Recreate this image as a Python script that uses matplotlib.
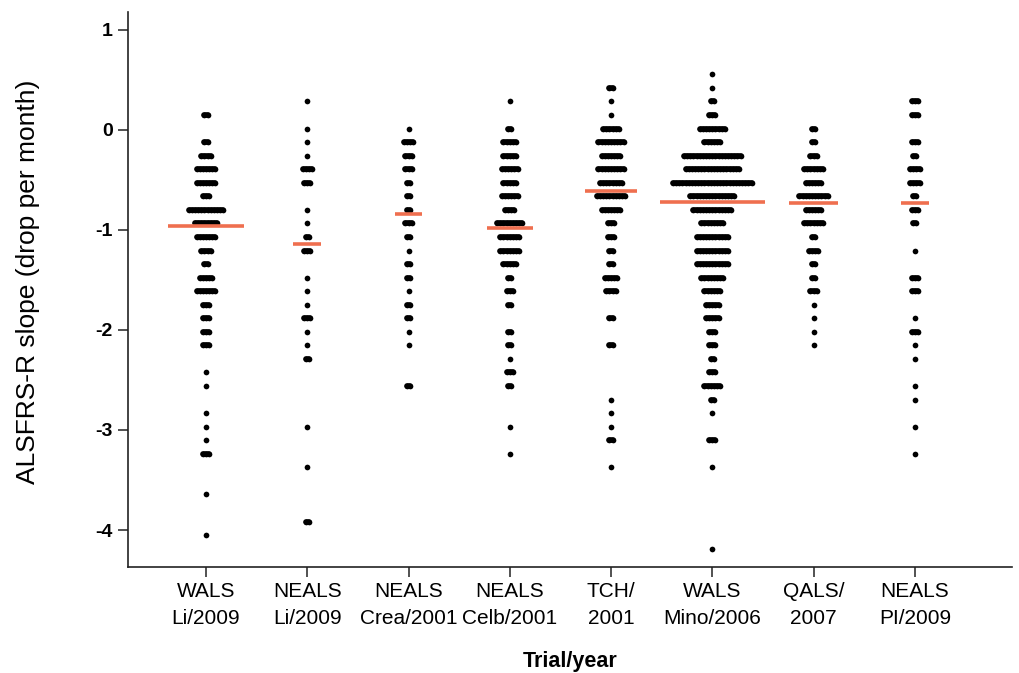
import numpy as np
import matplotlib.pyplot as plt

plt.rcParams["font.family"] = ["Liberation Sans", "DejaVu Sans"]

# ---------------------------------------------------------
# Data
# ---------------------------------------------------------
trials = ["WALS\nLi/2009", "NEALS\nLi/2009", "NEALS\nCrea/2001", "NEALS\nCelb/2001",
          "TCH/\n2001", "WALS\nMino/2006", "QALS/\n2007", "NEALS\nPI/2009"]

# slope bins (drop per month) at which the dots are stacked
slope_levels = [0.56, 0.42, 0.29, 0.15, 0.01, -0.12,
                -0.26, -0.39, -0.53, -0.66, -0.80, -0.93,
                -1.07, -1.21, -1.34, -1.48, -1.61, -1.75,
                -1.88, -2.02, -2.15, -2.29, -2.42, -2.56,
                -2.70, -2.83, -2.97, -3.10, -3.24, -3.37,
                -3.51, -3.64, -3.78, -3.92, -4.05, -4.19]

# patients per bin, same order as slope_levels
wals_li = [0, 0, 0, 2, 0, 2,   4, 7, 7, 3, 12, 8,   7, 4, 2, 5, 7, 3,
           3, 3, 3, 0, 1, 1,   0, 1, 1, 1, 3, 0,    0, 1, 0, 0, 1, 0]
neals_li = [0, 0, 1, 0, 1, 1,  1, 4, 3, 0, 1, 1,    2, 3, 0, 1, 1, 1,
            3, 1, 1, 2, 0, 0,  0, 0, 1, 0, 0, 1,    0, 0, 0, 2, 0, 0]
neals_crea = [0, 0, 0, 0, 1, 4, 3, 3, 2, 2, 2, 3,   2, 1, 2, 2, 1, 2,
              2, 1, 1, 0, 0, 2, 0, 0, 0, 0, 0, 0,   0, 0, 0, 0, 0, 0]
neals_celb = [0, 0, 1, 0, 2, 5, 5, 6, 5, 6, 4, 9,   7, 7, 5, 2, 3, 2,
              0, 2, 2, 1, 3, 2, 0, 0, 1, 0, 1, 0,   0, 0, 0, 0, 0, 0]
tch = [0, 2, 1, 1, 6, 9,       7, 9, 8, 10, 7, 3,   3, 2, 2, 5, 4, 0,
       2, 0, 2, 0, 0, 0,       1, 1, 1, 2, 0, 1,    0, 0, 0, 0, 0, 0]
wals_mino = [1, 1, 2, 3, 9, 6, 19, 18, 26, 15, 13, 8,  11, 11, 11, 8, 6, 5,
             5, 3, 3, 2, 3, 6, 2, 1, 0, 3, 0, 1,       0, 0, 0, 0, 0, 1]
qals = [0, 0, 0, 0, 2, 2,      3, 7, 6, 10, 6, 7,   2, 4, 2, 2, 3, 1,
        1, 1, 1, 0, 0, 0,      0, 0, 0, 0, 0, 0,    0, 0, 0, 0, 0, 0]
neals_pi = [0, 0, 3, 3, 0, 3,  2, 4, 4, 2, 3, 2,    0, 1, 0, 3, 3, 0,
            1, 3, 1, 1, 0, 1,  1, 0, 1, 0, 1, 0,    0, 0, 0, 0, 0, 0]

medians = [-0.96, -1.14, -0.84, -0.98, -0.61, -0.72, -0.73, -0.73]

counts = [wals_li, neals_li, neals_crea, neals_celb, tch, wals_mino, qals, neals_pi]

# ---------------------------------------------------------
# Style
# ---------------------------------------------------------
dot_step = 0.031                        # horizontal spacing between stacked dots
dot_size = 4.1                          # marker diameter, points
median_half = [0.38, 0.14, 0.135, 0.225, 0.255, 0.52, 0.245, 0.135]
median_color = "#ef6f4f"
axis_color = "#222222"

fig = plt.figure(figsize=(10.2, 6.73), dpi=100)
ax = fig.add_axes([0.1255, 0.1575, 0.8667, 0.8247])

for i, (col, med) in enumerate(zip(counts, medians)):
    xc = i + 1
    for level, n in zip(slope_levels, col):
        if n == 0:
            continue
        xs = xc + (np.arange(n) - (n - 1) / 2) * dot_step
        # overlapping dots of one bin drawn as a solid rounded strip
        ax.plot(xs, [level] * n, color="black", lw=dot_size, marker="o",
                ms=dot_size, mew=0, solid_capstyle="round", zorder=3)
    ax.hlines(med, xc - median_half[i], xc + median_half[i],
              color=median_color, lw=2.6, zorder=4)

ax.set_xlim(0.23, 8.96)
ax.set_ylim(-4.37, 1.18)
ax.set_xticks(range(1, len(trials) + 1))
ax.set_xticklabels(trials, fontsize=15, linespacing=1.5)
ax.set_yticks([1, 0, -1, -2, -3, -4])
ax.set_yticklabels(["1", "0", "-1", "-2", "-3", "-4"], fontsize=14, fontweight="bold")

for side in ["top", "right"]:
    ax.spines[side].set_visible(False)
for side in ["left", "bottom"]:
    ax.spines[side].set_color(axis_color)
    ax.spines[side].set_linewidth(1.2)
ax.tick_params(direction="out", length=7, width=1.1, color=axis_color, pad=4)

ax.set_ylabel("ALSFRS-R slope (drop per month)", fontsize=19)
ax.yaxis.set_label_coords(-0.100, 0.513)
ax.set_xlabel("Trial/year", fontsize=15.5, fontweight="bold", labelpad=17)

fig.savefig("out.png", dpi=100)
